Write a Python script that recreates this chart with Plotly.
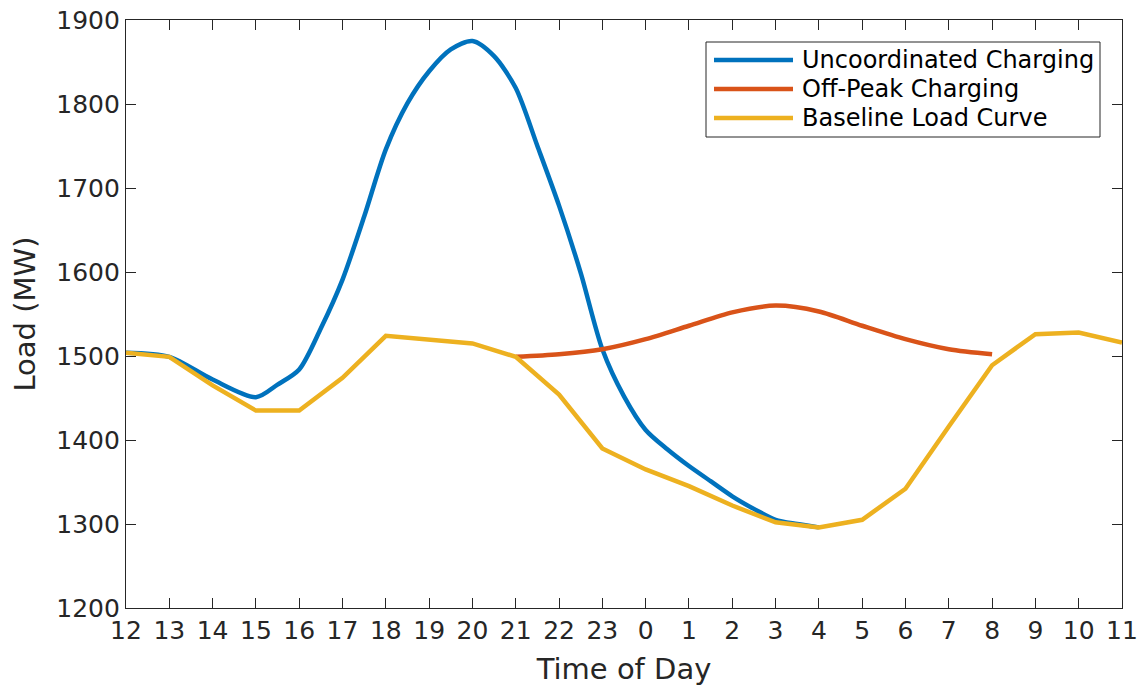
import plotly.graph_objects as go

# Hour-of-day labels for the 24 positions starting at noon
hour_labels = [12, 13, 14, 15, 16, 17, 18, 19, 20, 21, 22, 23,
               0, 1, 2, 3, 4, 5, 6, 7, 8, 9, 10, 11]
positions = list(range(24))

# Baseline system load (MW), hourly
baseline_load = [1504, 1499, 1465, 1435, 1435, 1474, 1524, 1519, 1515, 1499,
                 1454, 1390, 1365, 1345, 1322, 1302, 1296, 1305, 1342, 1416,
                 1489, 1526, 1528, 1516]

# Uncoordinated charging (MW), sampled on a half-hour grid where it varies fast
uncoord_t = [0, 1, 2, 3, 3.5, 4, 4.5, 5, 5.5, 6, 6.5, 7, 7.5, 8, 8.5, 9, 9.5,
             10, 10.5, 11, 11.5, 12, 12.5, 13, 13.5, 14, 14.5, 15, 15.5, 16]
uncoord_load = [1504, 1499, 1472, 1451, 1466, 1484, 1533, 1591, 1666, 1746,
                1801, 1839, 1865, 1875, 1857, 1819, 1750, 1679, 1599, 1508,
                1452, 1412, 1389, 1369, 1351, 1333, 1318, 1305, 1300, 1296]

# Off-peak charging (MW), from 21:00 to 08:00
offpeak_t = [9, 10, 11, 12, 13, 14, 15, 16, 17, 18, 19, 20]
offpeak_load = [1499, 1502, 1508, 1520, 1536, 1552, 1560, 1553, 1536, 1520,
                1508, 1502]

series_names = ["Uncoordinated Charging", "Off-Peak Charging", "Baseline Load Curve"]

BLUE = "#0072BD"
ORANGE = "#D95319"
YELLOW = "#EDB120"
AXIS = "#262626"
FONT = "DejaVu Sans, Verdana, sans-serif"
LW = 4.5

W, H = 1148, 688
ML, MR, MT, MB = 126, 26, 20, 80

fig = go.Figure()
fig.add_trace(go.Scatter(x=uncoord_t, y=uncoord_load, mode="lines",
                         name=series_names[0],
                         line=dict(color=BLUE, width=LW, shape="spline", smoothing=0.8)))
fig.add_trace(go.Scatter(x=offpeak_t, y=offpeak_load, mode="lines",
                         name=series_names[1],
                         line=dict(color=ORANGE, width=LW, shape="spline", smoothing=0.8)))
fig.add_trace(go.Scatter(x=positions, y=baseline_load, mode="lines",
                         name=series_names[2],
                         line=dict(color=YELLOW, width=LW)))

axis_common = dict(
    showgrid=False, zeroline=False, automargin=False,
    showline=True, linecolor=AXIS, linewidth=1.2, mirror="ticks",
    ticks="inside", ticklen=10, tickwidth=1, tickcolor=AXIS,
    tickfont=dict(family=FONT, size=25, color=AXIS),
)

fig.update_xaxes(
    range=[0, 23], tickmode="array", tickvals=positions,
    ticktext=[str(h) for h in hour_labels],
    title=dict(text="Time of Day", font=dict(family=FONT, size=29, color=AXIS), standoff=14),
    **axis_common,
)
fig.update_yaxes(
    range=[1200, 1900], tickmode="linear", tick0=1200, dtick=100,
    title=dict(text="Load (MW)", font=dict(family=FONT, size=29, color=AXIS), standoff=12),
    **axis_common,
)

# Boxed legend in the upper right of the axes (pixel layout converted to paper units)
def px_x(px):
    return (px - ML) / (W - ML - MR)

def px_y(py):
    return (H - MB - py) / (H - MT - MB)

box_left, box_right, box_top, box_bottom = 706, 1100, 42, 137
fig.add_shape(type="rect", xref="paper", yref="paper",
              x0=px_x(box_left), x1=px_x(box_right),
              y0=px_y(box_bottom), y1=px_y(box_top),
              line=dict(color=AXIS, width=1), fillcolor="white", layer="above")
row_y = [60, 89, 118]
for name, color, ry in zip(series_names, [BLUE, ORANGE, YELLOW], row_y):
    fig.add_shape(type="line", xref="paper", yref="paper",
                  x0=px_x(714), x1=px_x(793), y0=px_y(ry), y1=px_y(ry),
                  line=dict(color=color, width=LW), layer="above")
    fig.add_annotation(xref="paper", yref="paper", x=px_x(800), y=px_y(ry),
                       xanchor="left", yanchor="middle", showarrow=False,
                       text=name, font=dict(family=FONT, size=24, color="black"))

fig.update_layout(
    width=W, height=H,
    margin=dict(l=ML, r=MR, t=MT, b=MB),
    plot_bgcolor="white", paper_bgcolor="white",
    font=dict(family=FONT, color=AXIS),
    showlegend=False,
)

fig.write_html("out.html")
